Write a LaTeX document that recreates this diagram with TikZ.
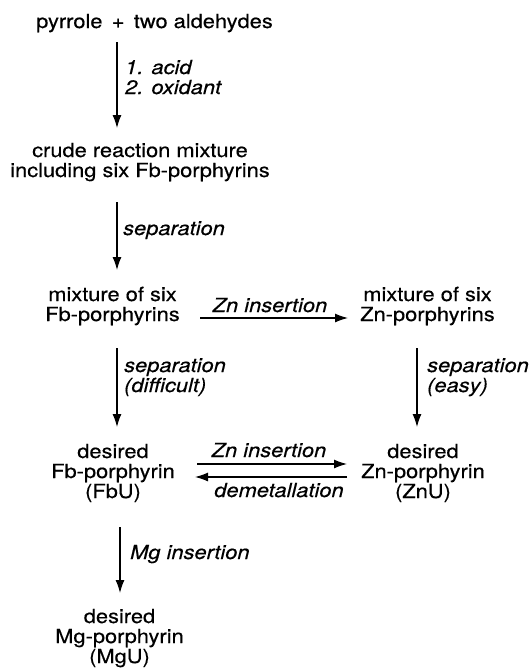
\documentclass[tikz,border=0pt]{standalone}
\usepackage{fontspec}
\setmainfont{TeX Gyre Heros}[FakeStretch=1.12,FakeBold=0.4]
\usetikzlibrary{arrows.meta}
\begin{document}
\begin{tikzpicture}[x=1pt,y=-1pt,
  txt/.style={font=\fontsize{19.5}{20}\selectfont, align=center, inner sep=0pt, anchor=base},
  lab/.style={font=\fontsize{19.5}{20}\selectfont\itshape, align=left, inner sep=0pt, anchor=base west},
  labc/.style={font=\fontsize{19.5}{20}\selectfont\itshape, inner sep=0pt, anchor=base},
  arr/.style={line width=1.2pt, -{Latex[length=13pt,width=9pt]}}]
\useasboundingbox (0,0) rectangle (532,672);
% main nodes (base = baseline of last line)
\node[txt] (top) at (154.5,28) {pyrrole \,+\, two aldehydes};
\node[txt] (crude) at (140,177) {crude reaction mixture\\including six Fb-porphyrins};
\node[txt] (mixFb) at (112.5,321) {mixture of six\\Fb-porphyrins};
\node[txt] (mixZn) at (427.5,321) {mixture of six\\Zn-porphyrins};
\node[txt] (desFb) at (113,498) {desired\\Fb-porphyrin\\(FbU)};
\node[txt] (desZn) at (423,498) {desired\\Zn-porphyrin\\(ZnU)};
\node[txt] (desMg) at (119.5,663) {desired\\Mg-porphyrin\\(MgU)};
% labels
\node[lab] (l1) at (125,94) {1. acid\\2. oxidant};
\node[lab] (l2) at (123,235) {separation};
\node[labc] (l3) at (270,312) {Zn insertion};
\node[lab] (l4) at (124,392) {separation\\(difficult)};
\node[lab] (l5) at (427,392) {separation\\(easy)};
\node[labc] (l6) at (269,457) {Zn insertion};
\node[labc] (l7) at (279,497) {demetallation};
\node[lab] (l8) at (130,559) {Mg insertion};
% arrows
\draw[arr] ([shift={(-37.5,14)}]top.base) -- ([shift={(-23,-49)}]crude.base);
\draw[arr] ([shift={(-23,25)}]crude.base) -- ([shift={(4.5,-51)}]mixFb.base);
\draw[arr] ([shift={(87.5,-3)}]mixFb.base) -- ([shift={(-79.5,-3)}]mixZn.base);
\draw[arr] ([shift={(4.5,27)}]mixFb.base) -- ([shift={(4,-71)}]desFb.base);
\draw[arr] ([shift={(-10.5,27)}]mixZn.base) -- ([shift={(-6,-71)}]desZn.base);
\draw[arr] ([shift={(84,-34)}]desFb.base) -- ([shift={(-76,-34)}]desZn.base);
\draw[arr] ([shift={(-76,-21)}]desZn.base) -- ([shift={(82,-21)}]desFb.base);
\draw[arr] ([shift={(7,29)}]desFb.base) -- ([shift={(0.5,-70)}]desMg.base);
\end{tikzpicture}
\end{document}
